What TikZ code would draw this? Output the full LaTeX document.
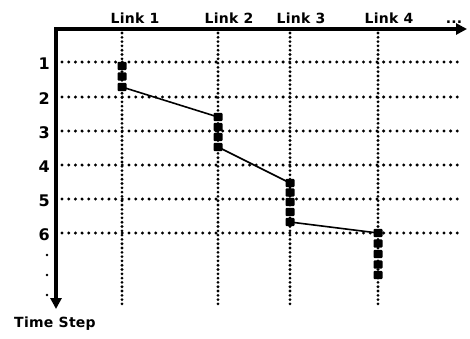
\documentclass[tikz,border=0pt]{standalone}
\usepackage{fontspec}
\setmainfont{DejaVu Sans}
\usetikzlibrary{arrows.meta}
\pgfdeclarelayer{bg}
\pgfsetlayers{bg,main}
\begin{document}
\begin{tikzpicture}[x=1pt,y=-1pt,
  axis/.style={line width=3.4pt,-{Triangle[length=11pt,width=11pt]}},
  hdots/.style={line width=3.3pt,line cap=round,dash pattern=on 0pt off 6.7pt},
  vdots/.style={line width=3.1pt,line cap=round,dash pattern=on 0pt off 4.3pt},
  sq/.style={fill=black,minimum width=9pt,minimum height=8.2pt,inner sep=0pt,rounded corners=1pt},
  conn/.style={line width=1.6pt},
  linklbl/.style={font=\fontsize{14}{16}\selectfont\bfseries\addfontfeature{LetterSpace=2}},
  rowlbl/.style={font=\fontsize{16}{18}\selectfont\bfseries,anchor=east,inner sep=0pt},
]
\useasboundingbox (0,0) rectangle (470,338);
% grid
\foreach \y in {62,97,131,165,199,233} \draw[hdots] (62,\y) -- (463,\y);
\foreach \x in {122,218,290,378} \draw[vdots] (\x,33) -- (\x,305);
% axes
\coordinate (o) at (56,29);
\coordinate (xe) at (467,29);
\coordinate (ye) at (56,309);
\draw[axis] (54.3,29) -- (xe);
\draw[axis] (o) -- (ye);
% labels
\node[linklbl] (l1) at (135,18) {Link 1};
\node[linklbl] (l2) at (229,18) {Link 2};
\node[linklbl] (l3) at (301,18) {Link 3};
\node[linklbl] (l4) at (389,18) {Link 4};
\node[linklbl,anchor=base] (ld) at (454,23) {...};
\foreach \n/\y in {1/64,2/99,3/133,4/167,5/201,6/235} \node[rowlbl] (r\n) at (50,\y) {\n};
\foreach \i/\y in {1/255,2/275,3/295} \fill (47,\y) circle (1.3pt);
\node[linklbl] (ts) at (55,324) {Time Step};
% squares
\foreach \i/\y in {1/66,2/76.5,3/87} \node[sq] (a\i) at (122,\y) {};
\foreach \i/\y in {1/117,2/127,3/137,4/147} \node[sq] (b\i) at (218,\y) {};
\foreach \i/\y in {1/183,2/192.5,3/202,4/212,5/222} \node[sq] (c\i) at (290,\y) {};
\foreach \i/\y in {1/233,2/243.5,3/254,4/264.5,5/275} \node[sq] (d\i) at (378,\y) {};
\begin{pgfonlayer}{bg}
\draw[conn] (a3.center) -- (b1.center);
\draw[conn] (b4.center) -- (c1.center);
\draw[conn] (c5.center) -- (d1.center);
\end{pgfonlayer}
\end{tikzpicture}
\end{document}
